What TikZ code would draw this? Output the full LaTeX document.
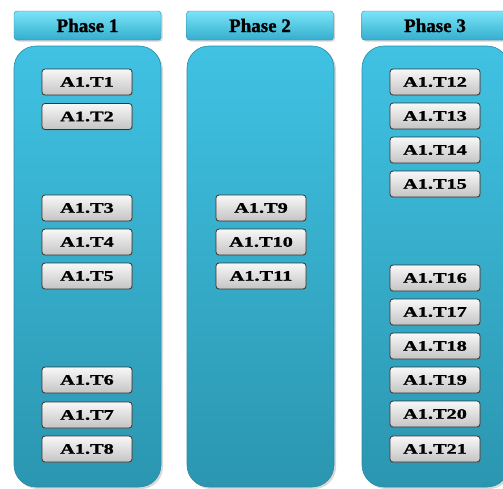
\documentclass[tikz,border=0pt]{standalone}
\usepackage{fontspec}
\setmainfont{Liberation Serif}
\newfontfamily\taskfont[FakeStretch=1.4,FakeBold=1.2]{Liberation Serif}
\newfontfamily\headfont[FakeBold=1.2]{Liberation Serif}
\usetikzlibrary{shadows}
\definecolor{hdtop}{HTML}{7AE4F8}
\definecolor{hdmid}{HTML}{44C6E6}
\definecolor{hdbot}{HTML}{34AECE}
\definecolor{coltop}{HTML}{40C2E3}
\definecolor{colbot}{HTML}{2B96B0}
\definecolor{coledge}{HTML}{2A8CA6}
\definecolor{tktop}{HTML}{F8F8F8}
\definecolor{tkbot}{HTML}{C4C4C4}
\definecolor{tkedge}{HTML}{333333}
\tikzset{
  header/.style={rounded corners=3pt, top color=hdtop, middle color=hdmid, bottom color=hdbot,
    draw=coledge, line width=0.4pt, minimum width=147pt, minimum height=29pt, inner sep=0pt,
    font=\headfont\bfseries\fontsize{19}{19}\selectfont,
    drop shadow={shadow xshift=1.5pt, shadow yshift=-1.5pt, opacity=0.35}},
  column/.style={rounded corners=22pt, top color=coltop, bottom color=colbot,
    draw=coledge, line width=0.6pt, minimum width=147pt, minimum height=441pt, inner sep=0pt,
    drop shadow={shadow xshift=2pt, shadow yshift=-2pt, opacity=0.3}},
  task/.style={rounded corners=3pt, top color=tktop, bottom color=tkbot, draw=tkedge,
    line width=0.8pt, minimum width=90pt, minimum height=26pt, inner sep=0pt,
    font=\taskfont\bfseries\fontsize{14.5}{14.5}\selectfont,
    drop shadow={shadow xshift=1pt, shadow yshift=-1pt, opacity=0.35}}
}
\begin{document}
\begin{tikzpicture}[x=1pt,y=-1pt]
\useasboundingbox (0,0) rectangle (503,488);
\clip (0,0) rectangle (503,488);
% columns
\node[column] (c1) at (87.5,266.5) {};
\node[column] (c2) at (260.5,266.5) {};
\node[column] (c3) at (435.5,266.5) {};
% headers
\node[header] (h1) at (87.5,25.5) {Phase 1};
\node[header] (h2) at (260,25.5) {Phase 2};
\node[header] (h3) at (435,25.5) {Phase 3};
% phase 1 tasks
\node[task] (t1) at (87,82) {A1.T1};
\node[task] (t2) at (87,116.5) {A1.T2};
\node[task] (t3) at (87,208) {A1.T3};
\node[task] (t4) at (87,242) {A1.T4};
\node[task] (t5) at (87,276) {A1.T5};
\node[task] (t6) at (87,380) {A1.T6};
\node[task] (t7) at (87,415) {A1.T7};
\node[task] (t8) at (87,449) {A1.T8};
% phase 2 tasks
\node[task] (t9) at (261,208) {A1.T9};
\node[task] (t10) at (261,242) {A1.T10};
\node[task] (t11) at (261,276) {A1.T11};
% phase 3 tasks
\node[task] (t12) at (435,82) {A1.T12};
\node[task] (t13) at (435,116) {A1.T13};
\node[task] (t14) at (435,150) {A1.T14};
\node[task] (t15) at (435,184) {A1.T15};
\node[task] (t16) at (435,278) {A1.T16};
\node[task] (t17) at (435,312) {A1.T17};
\node[task] (t18) at (435,346) {A1.T18};
\node[task] (t19) at (435,380) {A1.T19};
\node[task] (t20) at (435,414) {A1.T20};
\node[task] (t21) at (435,449) {A1.T21};
\end{tikzpicture}
\end{document}
